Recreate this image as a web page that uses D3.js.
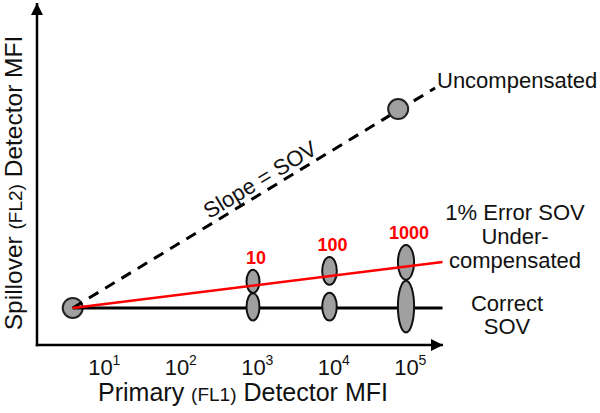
<!DOCTYPE html>
<html>
<head>
<meta charset="utf-8">
<script src="https://cdn.jsdelivr.net/npm/d3@7"></script>
<style>
  body { margin: 0; background: #fff; }
  text { font-family: "Liberation Sans", Arial, sans-serif; }
</style>
</head>
<body>
<script>
const width = 600;
const height = 413;

// decades on the primary axis (10^n)
const tickExponents = [1, 2, 3, 4, 5];

// primary (FL1) MFI
const originMFI = 4.4;
const lineEndMFI = 3e5;
const uncompEndMFI = 2.4e5;
const uncompPointMFI = 7.9e4;
const populationMFI = [1e3, 1e4, 1e5];
const populationLabels = ["10", "100", "1000"];

// spillover (FL2) MFI, arbitrary linear units
const originY = 10.9;
const correctEndY = 10.9;
const underEndY = 24.4;
const uncompEndY = 75.6;
const uncompPointY = 69.4;
const underMean = [18.7, 21.8, 24.3];
const underSpread = [3.4, 4.1, 5.1];
const correctMean = [11.2, 11.3, 11.3];
const correctSpread = [4.0, 4.1, 7.6];

const rightNotes = ["1% Error SOV", "Under-", "compensated"];
const correctNotes = ["Correct", "SOV"];

const frameLeft = 37, frameBottom = 345, frameTop = 3, axisEnd = 443;

const x = d3.scaleLog().domain([1e1, 1e5]).range([100, 406]);
const y = d3.scaleLinear().domain([0, 100]).range([frameBottom, 5]);

const svg = d3.select("body").append("svg")
  .attr("width", width)
  .attr("height", height)
  .attr("viewBox", [0, 0, width, height]);

const defs = svg.append("defs");
defs.append("marker")
  .attr("id", "arrow")
  .attr("viewBox", "0 0 12 12")
  .attr("refX", 12).attr("refY", 6)
  .attr("markerWidth", 12).attr("markerHeight", 12)
  .attr("markerUnits", "userSpaceOnUse")
  .attr("orient", "auto")
  .append("path")
  .attr("d", "M0,0L12,6L0,12Z")
  .attr("fill", "#000");

// axes frame with arrows
svg.append("line")
  .attr("x1", frameLeft).attr("y1", frameBottom + 1.2)
  .attr("x2", frameLeft).attr("y2", frameTop)
  .attr("stroke", "#000").attr("stroke-width", 2.5)
  .attr("marker-end", "url(#arrow)");
svg.append("line")
  .attr("x1", frameLeft - 1.2).attr("y1", frameBottom)
  .attr("x2", axisEnd).attr("y2", frameBottom)
  .attr("stroke", "#000").attr("stroke-width", 2.5)
  .attr("marker-end", "url(#arrow)");

// tick labels: 10 with a superscript exponent
const xAxis = d3.axisBottom(x)
  .tickValues(tickExponents.map(e => Math.pow(10, e)))
  .tickSize(0)
  .tickPadding(12)
  .tickFormat(() => "10");

const gx = svg.append("g")
  .attr("transform", `translate(0,${frameBottom})`)
  .call(xAxis);
gx.select(".domain").remove();
gx.selectAll(".tick text")
  .attr("font-size", 22)
  .attr("font-family", "Liberation Sans, Arial, sans-serif")
  .attr("fill", "#111")
  .attr("dy", null)
  .attr("y", 30);
gx.selectAll(".tick")
  .append("text")
  .attr("x", 12)
  .attr("y", 20)
  .attr("text-anchor", "start")
  .attr("font-size", 14)
  .attr("font-family", "Liberation Sans, Arial, sans-serif")
  .attr("fill", "#111")
  .text((d, i) => tickExponents[i]);

// axis titles
const xt = svg.append("text")
  .attr("x", 243).attr("y", 401)
  .attr("text-anchor", "middle")
  .attr("font-size", 25)
  .attr("fill", "#111");
xt.append("tspan").text("Primary ");
xt.append("tspan").attr("font-size", 19).text("(FL1)");
xt.append("tspan").text(" Detector MFI");

const yt = svg.append("text")
  .attr("transform", "translate(22,183) rotate(-90)")
  .attr("text-anchor", "middle")
  .attr("font-size", 24.5)
  .attr("fill", "#111");
yt.append("tspan").text("Spillover ");
yt.append("tspan").attr("font-size", 19).text("(FL2)");
yt.append("tspan").text(" Detector MFI");

// origin population
svg.append("circle")
  .attr("cx", x(originMFI)).attr("cy", y(originY))
  .attr("r", 10)
  .attr("fill", "#a0a0a0").attr("stroke", "#222").attr("stroke-width", 2);

const line = d3.line().x(d => x(d[0])).y(d => y(d[1]));

// uncompensated, dashed
svg.append("path")
  .attr("d", line([[originMFI, originY], [uncompEndMFI, uncompEndY]]))
  .attr("fill", "none").attr("stroke", "#000")
  .attr("stroke-width", 3).attr("stroke-dasharray", "11,8");

// correct SOV
svg.append("path")
  .attr("d", line([[originMFI, originY], [lineEndMFI, correctEndY]]))
  .attr("fill", "none").attr("stroke", "#000").attr("stroke-width", 3);

svg.append("circle")
  .attr("cx", x(uncompPointMFI)).attr("cy", y(uncompPointY))
  .attr("r", 10)
  .attr("fill", "#a0a0a0").attr("stroke", "#222").attr("stroke-width", 2);

// population ellipses
const ellipse = (mean, spread) => svg.append("g")
  .selectAll("ellipse")
  .data(populationMFI)
  .join("ellipse")
  .attr("cx", d => x(d))
  .attr("cy", (d, i) => y(mean[i]))
  .attr("rx", (d, i) => 6.5 + i * 0.8)
  .attr("ry", (d, i) => y(0) - y(spread[i]))
  .attr("fill", "#a0a0a0").attr("stroke", "#111").attr("stroke-width", 2);

ellipse(correctMean, correctSpread);
ellipse(underMean, underSpread);

// 1% error line
svg.append("path")
  .attr("d", line([[originMFI, originY], [lineEndMFI, underEndY]]))
  .attr("fill", "none").attr("stroke", "#ff0000").attr("stroke-width", 2.5);

// red population labels
svg.append("g")
  .selectAll("text")
  .data(populationLabels)
  .join("text")
  .attr("x", (d, i) => x(populationMFI[i]) + 3)
  .attr("y", (d, i) => y(underMean[i] + underSpread[i]) - 6)
  .attr("text-anchor", "middle")
  .attr("font-size", 18)
  .attr("font-weight", "bold")
  .attr("fill", "#ff0000")
  .text(d => d);

// slope label along the dashed line
const p0 = [x(originMFI), y(originY)];
const p1 = [x(uncompEndMFI), y(uncompEndY)];
const angle = Math.atan2(p1[1] - p0[1], p1[0] - p0[0]) * 180 / Math.PI;
const t = 0.535;
svg.append("text")
  .attr("transform", `translate(${p0[0] + t * (p1[0] - p0[0])},${p0[1] + t * (p1[1] - p0[1])}) rotate(${angle}) translate(0,-5)`)
  .attr("text-anchor", "middle")
  .attr("font-size", 22)
  .attr("fill", "#111")
  .text("Slope = SOV");

// annotations
svg.append("text")
  .attr("x", 437).attr("y", 88)
  .attr("font-size", 22).attr("fill", "#111")
  .text("Uncompensated");

svg.append("g")
  .selectAll("text")
  .data(rightNotes)
  .join("text")
  .attr("x", 515)
  .attr("y", (d, i) => 220 + i * 24)
  .attr("text-anchor", "middle")
  .attr("font-size", 22).attr("fill", "#111")
  .text(d => d);

svg.append("g")
  .selectAll("text")
  .data(correctNotes)
  .join("text")
  .attr("x", 507)
  .attr("y", (d, i) => 311 + i * 23)
  .attr("text-anchor", "middle")
  .attr("font-size", 22).attr("fill", "#111")
  .text(d => d);
</script>
</body>
</html>
